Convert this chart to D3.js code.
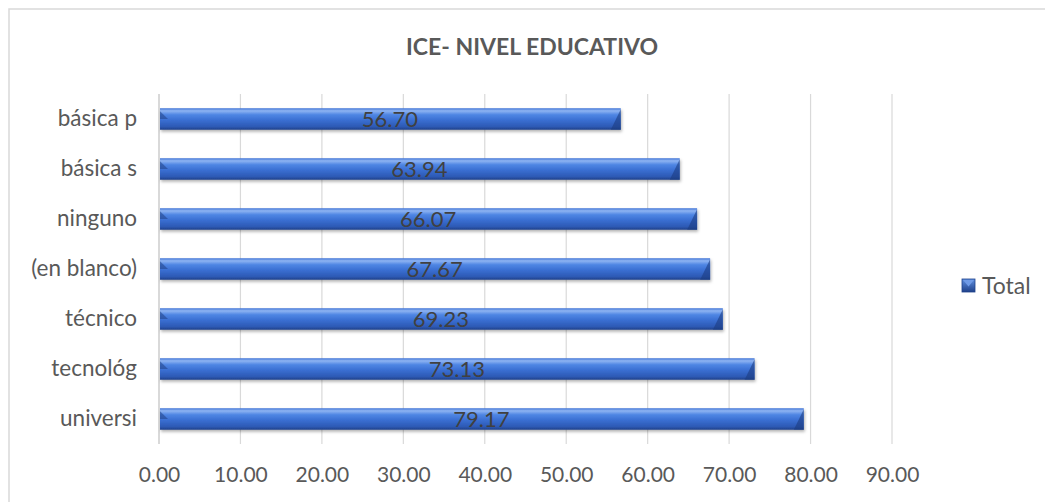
<!DOCTYPE html>
<html><head><meta charset="utf-8">
<script src="https://cdn.jsdelivr.net/npm/d3@7"></script>
<style>body{margin:0;background:#fff}svg{display:block}</style>
</head><body>
<script>
const categories = ["básica p","básica s","ninguno","(en blanco)","técnico","tecnológ","universi"];
const values = [56.70, 63.94, 66.07, 67.67, 69.23, 73.13, 79.17];
const tickValues = [0,10,20,30,40,50,60,70,80,90];
const seriesName = "Total";
const title = "ICE- NIVEL EDUCATIVO";

const W = 1045, H = 502;
const font = "Lato, 'Open Sans', sans-serif";
const svg = d3.select("body").append("svg").attr("width", W).attr("height", H);

// outer chart border
svg.append("rect").attr("x", 9).attr("y", 9).attr("width", W + 20).attr("height", H + 20)
  .attr("fill", "#fff").attr("stroke", "#d9d9d9").attr("stroke-width", 1.5);

const plot = {left: 159, right: 892, top: 94, bottom: 444};
const x = d3.scaleLinear().domain([0, 90]).range([plot.left, plot.right]);
const y = d3.scaleBand().domain(categories).range([plot.top, plot.bottom]).paddingInner(0.57).paddingOuter(0.285);

const defs = svg.append("defs");
const g = defs.append("linearGradient").attr("id", "barg").attr("x1", 0).attr("y1", 0).attr("x2", 0).attr("y2", 1);
[[0,"#3f74d6"],[0.12,"#8fb4f2"],[0.3,"#4f86e4"],[0.55,"#3a6fd2"],[0.85,"#2d5ab5"],[1,"#1f418a"]]
  .forEach(([o,c]) => g.append("stop").attr("offset", o).attr("stop-color", c));
const lg = defs.append("linearGradient").attr("id", "legg").attr("x1", 0).attr("y1", 0).attr("x2", 0).attr("y2", 1);
[[0,"#5f8fe0"],[1,"#1f418a"]].forEach(([o,c]) => lg.append("stop").attr("offset", o).attr("stop-color", c));
const sh = defs.append("filter").attr("id", "shadow").attr("x", "-5%").attr("y", "-30%").attr("width", "110%").attr("height", "180%");
sh.append("feDropShadow").attr("dx", 1).attr("dy", 2).attr("stdDeviation", 1.5).attr("flood-color", "#000").attr("flood-opacity", 0.3);

// gridlines
svg.append("g").selectAll("line").data(tickValues).join("line")
  .attr("x1", d => x(d)).attr("x2", d => x(d))
  .attr("y1", plot.top).attr("y2", plot.bottom)
  .attr("stroke", "#d9d9d9").attr("stroke-width", d => d === 0 ? 2 : 1.2);

// x axis labels
const xAxis = d3.axisBottom(x).tickValues(tickValues).tickFormat(d3.format(".2f")).tickSize(0).tickPadding(0);
const xa = svg.append("g").attr("transform", `translate(0,${plot.bottom + 23})`).call(xAxis);
xa.select(".domain").remove();
xa.selectAll("text").attr("font-family", font).attr("font-size", 21).attr("fill", "#595959").attr("dy", "0.71em");

// y axis labels
const yAxis = d3.axisLeft(y).tickSize(0).tickPadding(0);
const ya = svg.append("g").attr("transform", `translate(${plot.left - 22},0)`).call(yAxis);
ya.select(".domain").remove();
ya.selectAll("text").attr("font-family", font).attr("font-size", 22.5).attr("fill", "#595959");

// bars
const bars = svg.append("g").selectAll("g").data(categories).join("g");
bars.append("rect")
  .attr("x", x(0) + 1).attr("y", d => y(d))
  .attr("width", (d, i) => x(values[i]) - x(0) - 1).attr("height", y.bandwidth())
  .attr("fill", "url(#barg)").attr("filter", "url(#shadow)");
// left bevel triangle
bars.append("path")
  .attr("d", d => `M${x(0)+1},${y(d)+3} L${x(0)+9},${y(d)+y.bandwidth()*0.5} L${x(0)+1},${y(d)+y.bandwidth()*0.5} Z`)
  .attr("fill", "#1f3f86").attr("opacity", 0.55);
// right bevel triangle
bars.append("path")
  .attr("d", (d, i) => `M${x(values[i])},${y(d)+1} L${x(values[i])},${y(d)+y.bandwidth()} L${x(values[i])-10},${y(d)+y.bandwidth()} Z`)
  .attr("fill", "#1d3c80").attr("opacity", 0.6);

// value labels
svg.append("g").selectAll("text").data(categories).join("text")
  .attr("x", (d, i) => (x(0) + x(values[i])) / 2)
  .attr("y", d => y(d) + y.bandwidth() / 2)
  .attr("dy", "0.36em").attr("text-anchor", "middle")
  .attr("font-family", font).attr("font-size", 22).attr("fill", "#404040")
  .text((d, i) => d3.format(".2f")(values[i]));

// title
svg.append("text").attr("x", 532).attr("y", 55).attr("text-anchor", "middle")
  .attr("font-family", font).attr("font-size", 23).attr("font-weight", "bold").attr("fill", "#595959")
  .text(title);

// legend
const leg = svg.append("g").attr("transform", "translate(962,279)");
leg.append("rect").attr("width", 13).attr("height", 13).attr("fill", "url(#legg)").attr("stroke", "#1f418a").attr("stroke-width", 0.8);
leg.append("path").attr("d", "M1,1 L12,1 L6.5,7.5 Z").attr("fill", "#6f9ae6");
leg.append("text").attr("x", 20).attr("y", 7).attr("dy", "0.36em")
  .attr("font-family", font).attr("font-size", 23).attr("fill", "#595959").text(seriesName);
</script>
</body></html>
